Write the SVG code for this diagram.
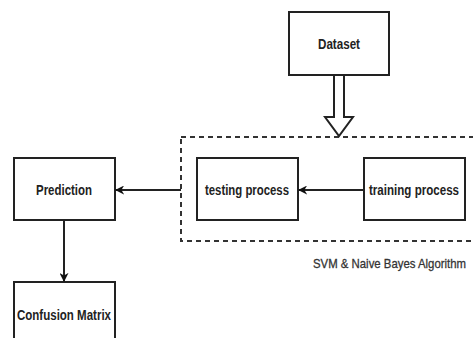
<svg xmlns="http://www.w3.org/2000/svg" width="473" height="338" viewBox="0 0 473 338">
  <defs>
    <marker id="arrow" viewBox="0 0 10 10" refX="9" refY="5" markerWidth="9" markerHeight="9" markerUnits="userSpaceOnUse" orient="auto">
      <path d="M0,0 L10,5 L0,10 L3,5 Z" fill="#111"/>
    </marker>
    <style>
      .box { fill: #fff; stroke: #222; stroke-width: 2; }
      .lbl { font-family: "Liberation Sans", Arial, sans-serif; font-weight: bold; font-size: 14.5px; fill: #222; text-anchor: middle; dominant-baseline: central; }
      .edge { fill: none; stroke: #222; stroke-width: 2; marker-end: url(#arrow); }
      .group { fill: none; stroke: #333; stroke-width: 2; stroke-dasharray: 5 4; }
      .cap { font-family: "Liberation Sans", Arial, sans-serif; font-size: 13.5px; fill: #333; stroke: #333; stroke-width: 0.3; }
    </style>
  </defs>
  <rect width="473" height="338" fill="#fff"/>

  <!-- algorithm container -->
  <g id="algorithm">
    <rect class="group" x="181" y="137" width="300" height="104"/>
    <text class="cap" x="313" y="268" textLength="153" lengthAdjust="spacingAndGlyphs">SVM &amp; Naive Bayes Algorithm</text>
  </g>

  <g id="dataset">
    <rect class="box" x="289" y="12" width="100" height="63"/>
    <text class="lbl" x="339" y="44" textLength="42" lengthAdjust="spacingAndGlyphs">Dataset</text>
  </g>

  <g id="testing">
    <rect class="box" x="197" y="158" width="101" height="62"/>
    <text class="lbl" x="247" y="190" textLength="84" lengthAdjust="spacingAndGlyphs">testing process</text>
  </g>

  <g id="training">
    <rect class="box" x="364" y="158" width="101" height="62"/>
    <text class="lbl" x="414" y="190" textLength="90" lengthAdjust="spacingAndGlyphs">training process</text>
  </g>

  <g id="prediction">
    <rect class="box" x="14" y="158" width="101" height="62"/>
    <text class="lbl" x="64" y="190" textLength="56" lengthAdjust="spacingAndGlyphs">Prediction</text>
  </g>

  <g id="confusion">
    <rect class="box" x="14" y="282" width="101" height="70"/>
    <text class="lbl" x="64" y="315" textLength="94" lengthAdjust="spacingAndGlyphs">Confusion Matrix</text>
  </g>

  <g id="connectors">
    <!-- hollow block arrow from dataset into the algorithm group -->
    <path d="M334,75 L344,75 L344,117 L353,117 L339,136 L325,117 L334,117 Z" fill="#fff" stroke="#222" stroke-width="2" stroke-linejoin="miter"/>
    <line class="edge" x1="364" y1="190" x2="299" y2="190"/>
    <line class="edge" x1="181" y1="190" x2="116" y2="190"/>
    <line class="edge" x1="64" y1="220" x2="64" y2="281"/>
  </g>
</svg>
